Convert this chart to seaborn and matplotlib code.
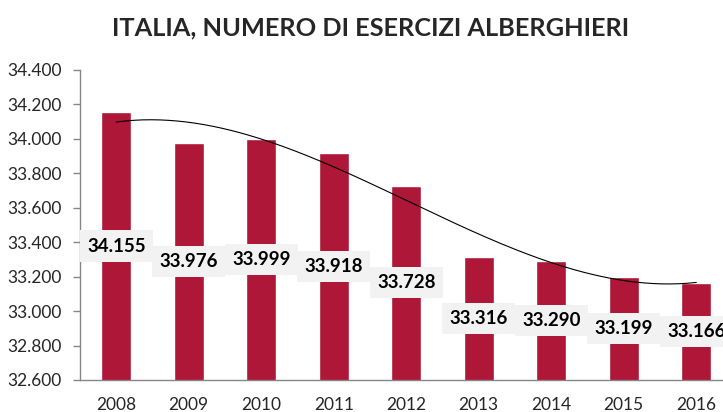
import numpy as np
import pandas as pd
import matplotlib
matplotlib.use("Agg")
import matplotlib.pyplot as plt
import seaborn as sns

anni = ["2008", "2009", "2010", "2011", "2012", "2013", "2014", "2015", "2016"]
esercizi = [34155, 33976, 33999, 33918, 33728, 33316, 33290, 33199, 33166]

titolo = "ITALIA, NUMERO DI ESERCIZI ALBERGHIERI"
rosso = "#AE1737"

sns.set_theme(style="white")
plt.rcParams["font.family"] = ["Lato", "DejaVu Sans"]

def migliaia(v):
    return f"{int(round(v)):,}".replace(",", ".")

df = pd.DataFrame({"anno": anni, "esercizi": esercizi})

fig = plt.figure(figsize=(7.23, 4.12), dpi=100)
ax = fig.add_axes([80 / 723, 32 / 412, 652.5 / 723, 310 / 412])

sns.barplot(data=df, x="anno", y="esercizi", color=rosso, width=0.41,
            saturation=1, ax=ax)

ymin, ymax = 32600, 34400
ax.set_ylim(ymin, ymax)
ax.set_xlim(-0.5, len(anni) - 0.5)

# linea di tendenza polinomiale (come in Excel)
xx = np.arange(len(anni))
coef = np.polyfit(xx, esercizi, 3)
xs = np.linspace(0, len(anni) - 1, 200)
ax.plot(xs, np.polyval(coef, xs), color="black", lw=0.8)

# etichette al centro delle barre
for i, v in enumerate(esercizi):
    ax.text(i, (ymin + v) / 2, migliaia(v), ha="center", va="center",
            fontsize=13.5, fontweight="bold", color="black",
            bbox=dict(boxstyle="square,pad=0.38", fc="#F2F2F2", ec="none"))

yt = np.arange(ymin, ymax + 1, 200)
ax.set_yticks(yt)
ax.set_yticklabels([migliaia(v) for v in yt], fontsize=12.5, color="#262626")
ax.set_xticks(xx)
ax.set_xticklabels(anni, fontsize=12.5, color="#262626")
ax.set_xticks(np.arange(len(anni)) + 0.5, minor=True)
ax.tick_params(axis="x", which="major", length=0, pad=12)
ax.tick_params(axis="x", which="minor", length=5, color="#868686", width=1)
ax.tick_params(axis="y", length=5, color="#868686", width=1, pad=8, left=True)
ax.set_xlabel("")
ax.set_ylabel("")

for s in ["top", "right"]:
    ax.spines[s].set_visible(False)
for s in ["left", "bottom"]:
    ax.spines[s].set_color("#868686")
    ax.spines[s].set_linewidth(1)

fig.text(371 / 723, 1 - 28 / 412, titolo, ha="center", va="center",
         fontsize=18.3, fontweight="bold")

fig.savefig("out.png", dpi=100)
